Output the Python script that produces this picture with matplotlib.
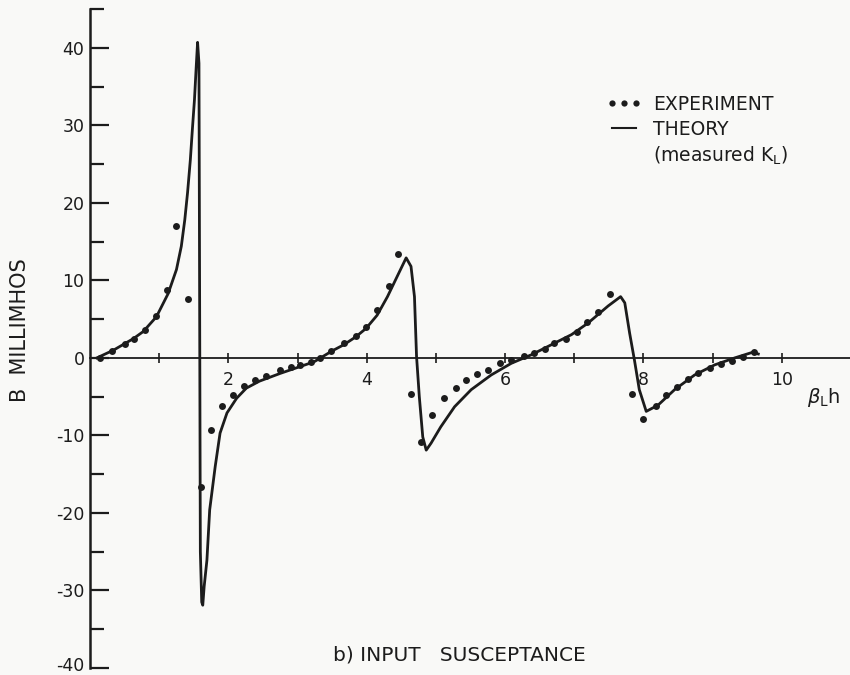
import matplotlib
matplotlib.use("Agg")
import matplotlib.pyplot as plt
from matplotlib.lines import Line2D
from matplotlib.transforms import ScaledTranslation

plt.rcParams["axes.unicode_minus"] = False

# -----------------------------
# Data
# -----------------------------

theory_x = [0.10, 0.34, 0.63, 0.77, 0.96, 1.13, 1.25, 1.32, 1.37, 1.41, 1.45,
            1.48, 1.51, 1.535, 1.555, 1.575, 1.595, 1.615, 1.63, 1.65, 1.69,
            1.73, 1.81, 1.88, 1.98, 2.12, 2.26, 2.45, 2.75, 3.24, 3.50, 3.67,
            3.84, 3.99, 4.15, 4.30, 4.44, 4.57, 4.64, 4.69, 4.72, 4.76, 4.81,
            4.86, 4.93, 5.07, 5.27, 5.51, 5.80, 6.09, 6.38, 6.67, 6.96, 7.20,
            7.49, 7.67, 7.73, 7.80, 7.87, 7.94, 8.04, 8.21, 8.45, 8.74, 9.03,
            9.32, 9.57, 9.66]
theory_y = [0.0, 1.0, 2.5, 3.4, 5.3, 8.3, 11.4, 14.4, 17.8, 21.3, 25.5,
            29.5, 33.3, 37.5, 40.7, 38.0, -25.0, -31.5, -31.9, -29.5, -26.1,
            -19.6, -14.0, -9.7, -7.1, -5.2, -3.9, -3.0, -2.0, -0.5, 0.9, 1.7,
            2.7, 3.8, 5.5, 7.9, 10.5, 12.9, 11.8, 7.9, 0.2, -5.0, -10.2,
            -11.9, -11.0, -8.9, -6.3, -4.1, -2.2, -0.7, 0.4, 1.7, 3.0, 4.5,
            6.7, 7.9, 7.1, 3.2, -0.3, -4.1, -6.9, -6.1, -4.1, -2.2, -0.9,
            0.0, 0.7, 0.5]

exp_x = [0.14, 0.32, 0.50, 0.63, 0.79, 0.95, 1.11, 1.25, 1.42, 1.60, 1.75,
         1.91, 2.07, 2.23, 2.39, 2.54, 2.74, 2.90, 3.04, 3.19, 3.33, 3.49,
         3.67, 3.84, 3.99, 4.15, 4.32, 4.45, 4.64, 4.78, 4.94, 5.11, 5.29,
         5.43, 5.60, 5.75, 5.92, 6.09, 6.27, 6.42, 6.57, 6.71, 6.88, 7.04,
         7.19, 7.35, 7.51, 7.83, 7.99, 8.18, 8.32, 8.48, 8.64, 8.79, 8.96,
         9.12, 9.28, 9.44, 9.60]
exp_y = [0.0, 0.9, 1.8, 2.5, 3.6, 5.4, 8.8, 17.0, 7.6, -16.6, -9.3,
         -6.2, -4.8, -3.6, -2.8, -2.4, -1.6, -1.2, -0.9, -0.5, 0.0, 0.9,
         1.9, 2.8, 4.0, 6.2, 9.3, 13.4, -4.7, -10.8, -7.4, -5.2, -3.9,
         -2.8, -2.1, -1.5, -0.7, -0.3, 0.3, 0.6, 1.2, 1.9, 2.5, 3.4,
         4.6, 5.9, 8.3, -4.7, -7.9, -6.2, -4.8, -3.7, -2.7, -1.9, -1.3,
         -0.8, -0.4, 0.1, 0.7]

x_ticks = list(range(1, 12))
x_ticklabels = ["" if t % 2 else str(t) for t in x_ticks]
y_major = list(range(-40, 41, 10))
y_minor = list(range(-35, 46, 10))

ink = "#1c1c1c"
bg = "#f9f9f7"

# -----------------------------
# Figure
# -----------------------------

fig = plt.figure(figsize=(8.5, 6.75), dpi=100, facecolor=bg)
ax = fig.add_axes([90 / 850, 7 / 675, 761 / 850, 659 / 675])
ax.set_facecolor(bg)

ax.plot(theory_x, theory_y, color=ink, lw=2.0, solid_joinstyle="round")
ax.plot(exp_x, exp_y, "o", color=ink, ms=5, mec="none")

ax.set_xlim(0, 11)
ax.set_ylim(-40, 45)

ax.spines["top"].set_visible(False)
ax.spines["right"].set_visible(False)
ax.spines["left"].set_linewidth(1.8)
ax.spines["left"].set_color(ink)
ax.spines["bottom"].set_position(("data", 0))
ax.spines["bottom"].set_linewidth(1.3)
ax.spines["bottom"].set_color(ink)

ax.set_yticks(y_major)
ax.set_yticks(y_minor, minor=True)
ax.tick_params(axis="y", which="major", direction="in", length=14, width=1.6,
               color=ink, labelsize=12.5, labelcolor=ink, pad=4)
ax.tick_params(axis="y", which="minor", direction="in", length=10, width=1.6,
               color=ink)

ax.set_xticks(x_ticks)
ax.set_xticklabels(x_ticklabels)
ax.tick_params(axis="x", which="major", direction="inout", length=7, width=1.2,
               color=ink, labelsize=12.5, labelcolor=ink, pad=6)

# lift the bottom label a little so it stays inside the picture
bottom_label = ax.get_yticklabels()[0]
bottom_label.set_transform(bottom_label.get_transform()
                           + ScaledTranslation(0, 3 / 72, fig.dpi_scale_trans))

fig.text(20 / 850, 1 - 330 / 675, "B  MILLIMHOS", rotation=90, fontsize=15,
         color=ink, ha="center", va="center")
fig.text(807 / 850, 1 - 397 / 675, r"$\beta_{\mathregular{L}}$h", fontsize=14,
         color=ink, ha="left", va="center")
fig.text(459 / 850, 1 - 655 / 675, "b) INPUT   SUSCEPTANCE", fontsize=14.5,
         color=ink, ha="center", va="center")

handles = [Line2D([], [], ls="none", marker="o", ms=4.5, color=ink, mec="none"),
           Line2D([], [], color=ink, lw=1.5),
           Line2D([], [], alpha=0)]
labels = ["EXPERIMENT", "THEORY", r"(measured K$_{\mathregular{L}}$)"]
leg = ax.legend(handles, labels, loc="upper left",
                bbox_to_anchor=(606 / 850, 1 - 95 / 675),
                bbox_transform=fig.transFigure, frameon=False, numpoints=3,
                fontsize=13.5, handlelength=1.9, handletextpad=0.6,
                labelspacing=0.3, borderpad=0, borderaxespad=0)
for t in leg.get_texts():
    t.set_color(ink)

fig.savefig("out.png", dpi=100, facecolor=bg)
